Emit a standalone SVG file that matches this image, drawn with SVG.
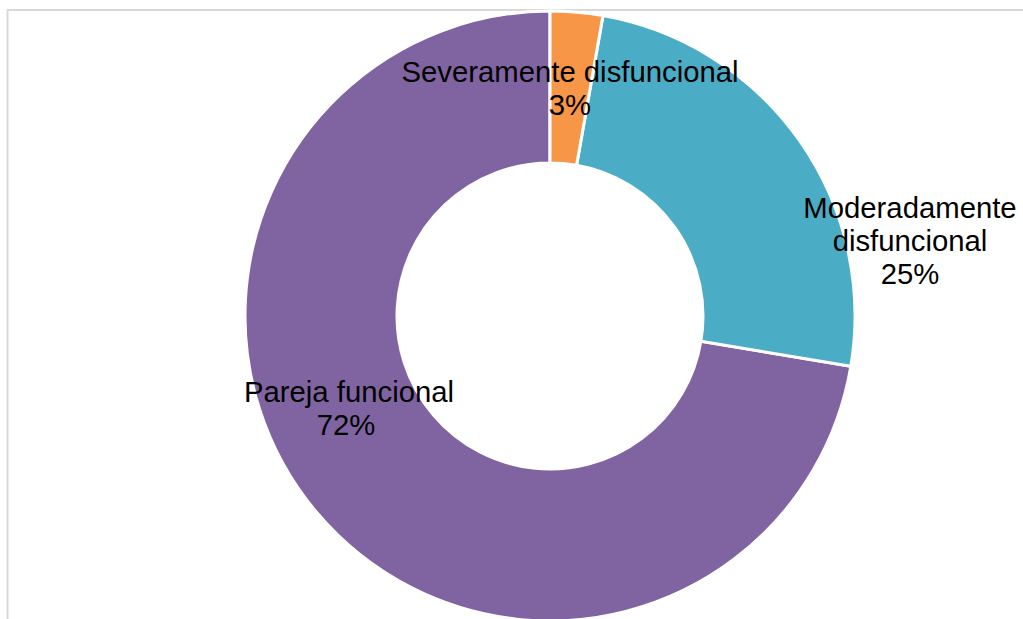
<svg xmlns="http://www.w3.org/2000/svg" width="1023" height="619" viewBox="0 0 1023 619">
<style>
.seg{stroke:#ffffff;stroke-width:3;stroke-linejoin:miter}
.lbl{font-family:"Liberation Sans",Arial,sans-serif;font-size:29.3px;fill:#000000;text-anchor:middle}
.frame{stroke:#d9d9d9;stroke-width:2;fill:none}
</style>
<rect width="1023" height="619" fill="#ffffff"/>
<g id="frame">
<path class="frame" d="M7.5,619 L7.5,10 L1023,10"/>
</g>
<g id="connectors"></g>
<g id="seg-pareja">
<path class="seg" fill="#8064A2" d="M850.82,366.34 A305,305 0 1 1 550,11 L550,163 A153,153 0 1 0 700.90,341.25 Z"/>
</g>
<g id="seg-moderadamente">
<path class="seg" fill="#4BACC6" d="M602.96,15.63 A305,305 0 0 1 850.82,366.34 L700.90,341.25 A153,153 0 0 0 576.57,165.32 Z"/>
</g>
<g id="seg-severamente">
<path class="seg" fill="#F79646" d="M550,11 A305,305 0 0 1 602.96,15.63 L576.57,165.32 A153,153 0 0 0 550,163 Z"/>
</g>
<g id="label-severamente">
<text class="lbl" x="570" y="82">Severamente disfuncional</text>
<text class="lbl" x="570" y="115">3%</text>
</g>
<g id="label-moderadamente">
<text class="lbl" x="910" y="218">Moderadamente</text>
<text class="lbl" x="910" y="251">disfuncional</text>
<text class="lbl" x="910" y="284">25%</text>
</g>
<g id="label-pareja">
<text class="lbl" x="349" y="402">Pareja funcional</text>
<text class="lbl" x="346" y="435">72%</text>
</g>
</svg>
